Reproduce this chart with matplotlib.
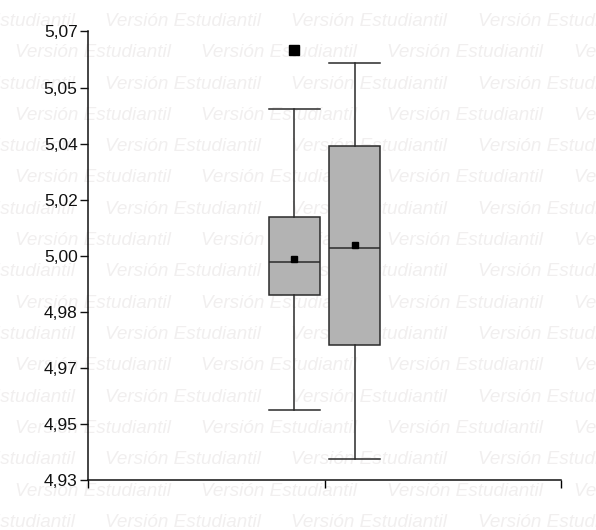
import numpy as np
import matplotlib.pyplot as plt
from matplotlib.ticker import FixedLocator

# boxplot summary for the two groups
groups = ['A', 'B']
q1 = [4.9876, 4.9720]
medians = [4.9980, 5.0023]
q3 = [5.0122, 5.0342]
whis_lo = [4.9518, 4.9365]
whis_hi = [5.0458, 5.0601]
means = [4.9990, 5.0033]
fliers = [[5.0642], []]

# y axis range and its printed labels
y_min, y_max = 4.93, 5.07
y_labels = ['4,93', '4,95', '4,97', '4,98', '5,00', '5,02', '5,04', '5,05', '5,07']

W, H = 596, 530
fig = plt.figure(figsize=(W / 100, H / 100), dpi=100)
fig.patch.set_facecolor('white')

# background watermark, staggered rows
wm = 'Versión Estudiantil'
period = 186.3
for k in range(18):
    yb = 26 + 31.3 * k
    x0 = 105 if k % 2 == 0 else 14.7
    for j in range(-1, 4):
        fig.text((x0 + j * period) / W, 1 - yb / H, wm, fontsize=13.6,
                 style='italic', family='Liberation Sans', color='#f1efef',
                 ha='left', va='baseline', zorder=0)

ax = fig.add_axes([88 / W, 50 / H, 473 / W, 448.5 / H])
ax.set_facecolor('none')
ax.set_zorder(2)

stats = []
for i in range(len(groups)):
    stats.append(dict(label=groups[i], q1=q1[i], med=medians[i], q3=q3[i],
                      whislo=whis_lo[i], whishi=whis_hi[i], mean=means[i],
                      fliers=fliers[i]))

edge = '#2a2a2a'
lw = 1.1
ax.bxp(stats, positions=[0.873, 1.127], widths=0.216, patch_artist=True,
       showmeans=True, manage_ticks=False,
       boxprops=dict(facecolor='#b3b3b3', edgecolor=edge, linewidth=lw),
       medianprops=dict(color=edge, linewidth=lw),
       whiskerprops=dict(color=edge, linewidth=lw),
       capprops=dict(color=edge, linewidth=lw),
       capwidths=0.216,
       meanprops=dict(marker='s', markerfacecolor='black', markeredgecolor='black',
                      markersize=4.5),
       flierprops=dict(marker='s', markerfacecolor='black', markeredgecolor='black',
                       markersize=7.5))

ax.set_xlim(0, 2)
ax.set_ylim(y_min, y_max)
ax.yaxis.set_major_locator(FixedLocator(np.linspace(y_min, y_max, len(y_labels))))
ax.set_yticklabels(y_labels)
ax.set_xticks([0, 1, 2])
ax.set_xticklabels([])

for s in ['top', 'right']:
    ax.spines[s].set_visible(False)
for s in ['left', 'bottom']:
    ax.spines[s].set_linewidth(1.1)
    ax.spines[s].set_color('#111111')

ax.tick_params(axis='y', direction='out', length=5.5, width=1.0, pad=2,
               labelsize=12.5, colors='#111111')
ax.tick_params(axis='x', direction='out', length=5.5, width=1.0)
for t in ax.get_yticklabels():
    t.set_family('Liberation Sans')

fig.savefig('out.png', dpi=100)
